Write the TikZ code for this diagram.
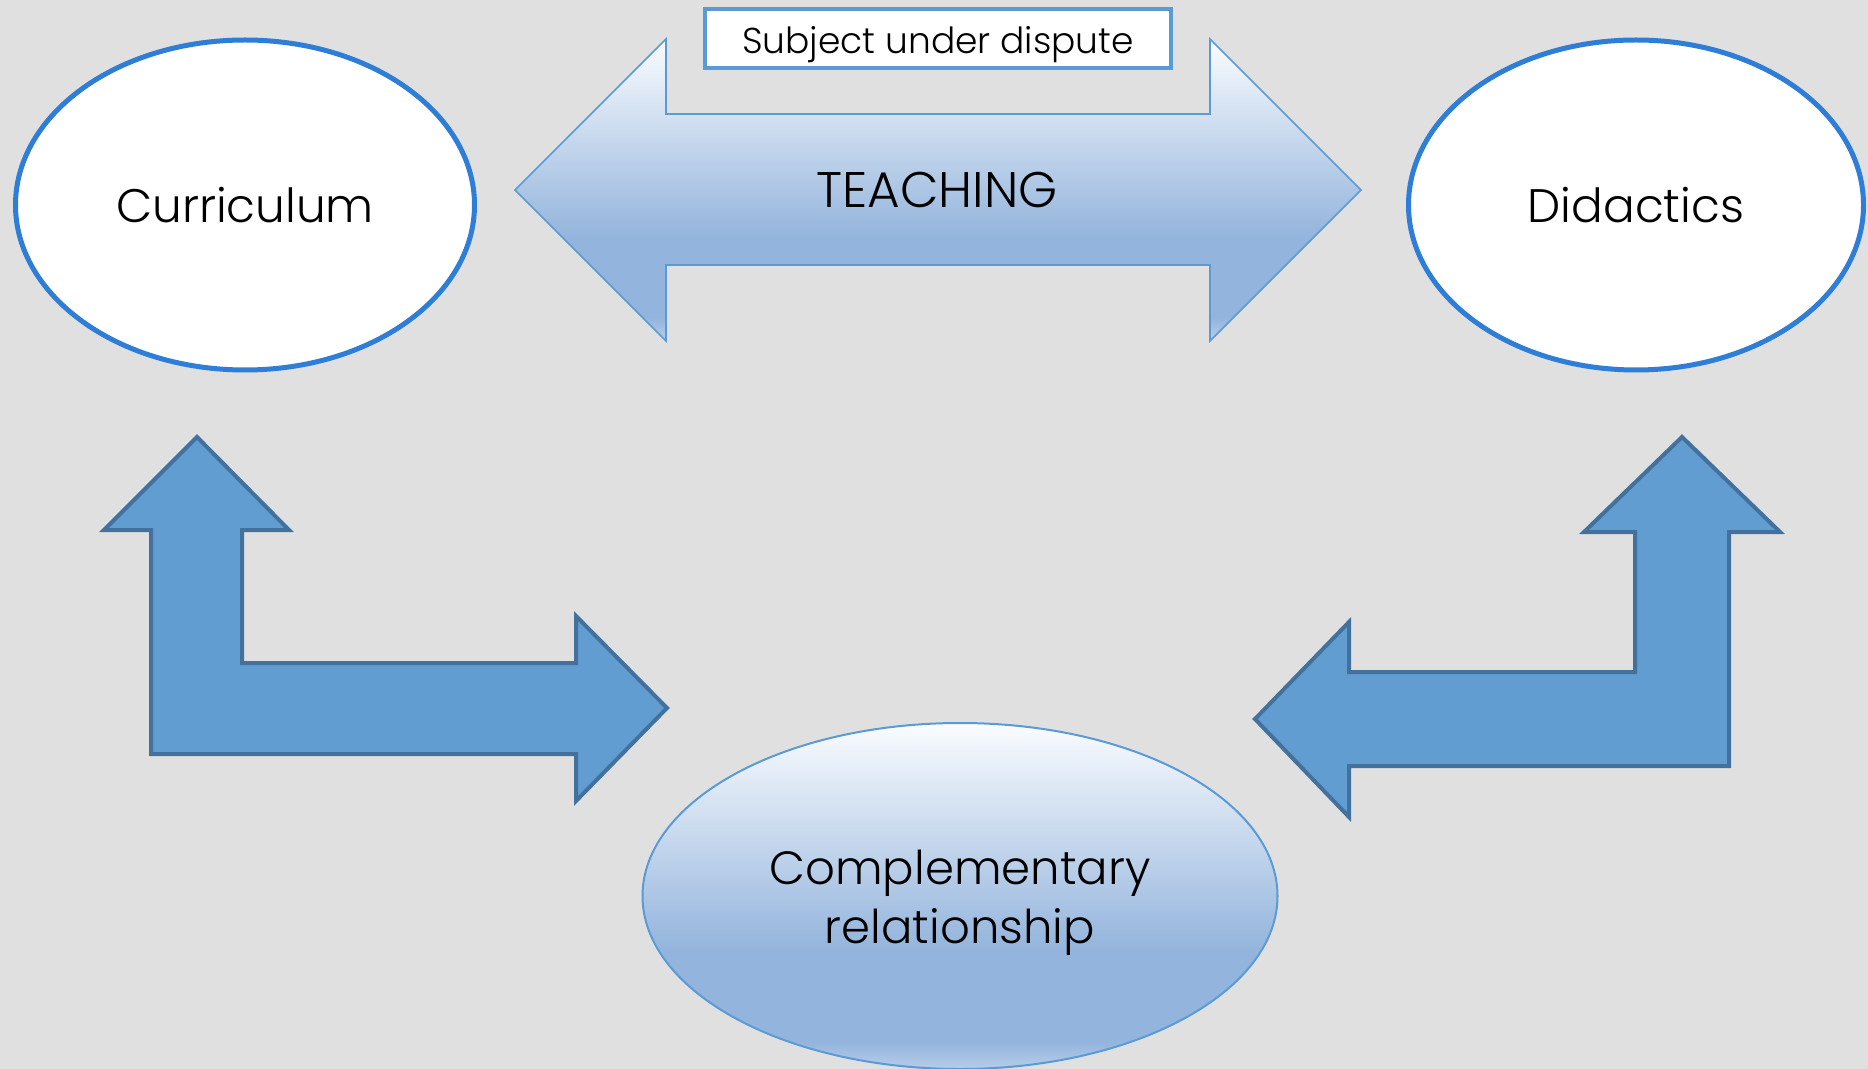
\documentclass[tikz,border=0pt]{standalone}
\usepackage{fontspec}
\setmainfont{Poppins Light}
\usetikzlibrary{shapes.geometric}

\definecolor{backgray}{RGB}{224,224,224}
\definecolor{ringblue}{RGB}{46,125,214}
\definecolor{arrowfill}{RGB}{98,157,209}
\definecolor{arrowline}{RGB}{65,113,156}
\definecolor{lightline}{RGB}{91,155,213}
\definecolor{gradlow}{RGB}{183,205,233}
\definecolor{gradbot}{RGB}{147,180,220}
\definecolor{gradtop}{RGB}{250,252,255}

\pgfdeclareverticalshading{softblue}{100bp}{color(0bp)=(gradlow); color(25bp)=(gradlow); color(29bp)=(gradbot); color(42bp)=(gradbot); color(75bp)=(gradtop); color(100bp)=(gradtop)}

\begin{document}
\begin{tikzpicture}[
		x=0.5pt, y=-0.5pt,
		bubble/.style={ellipse, draw=ringblue, fill=white, line width=2.5pt, inner sep=0pt, font=\fontsize{23.5}{28}\selectfont},
		blockarrow/.style={fill=arrowfill, draw=arrowline, line width=2pt, line join=miter},
		softarrow/.style={shade, shading=softblue, draw=lightline, line width=0.8pt}
		]
		
		% Background
		\fill[backgray] (0,0) rectangle (1868,1069);
		\useasboundingbox (0,0) rectangle (1868,1069);
		
		% Top ellipses
		\node[bubble, minimum width=229.5pt, minimum height=165pt] (curriculum) at (245,205) {Curriculum};
		\node[bubble, minimum width=227.5pt, minimum height=165pt] (didactics) at (1636,205) {Didactics};
		
		% Double arrow with its label
		\path[softarrow] (515,190) -- (666,39) -- (666,114) -- (1210,114) -- (1210,39) -- (1361,190)
			-- (1210,341) -- (1210,265) -- (666,265) -- (666,341) -- cycle;
		\node[font=\fontsize{25}{30}\selectfont] (teaching) at (937,190) {TEACHING};
		\node[draw=lightline, fill=white, line width=2pt, minimum width=233pt, minimum height=29.5pt,
			text height=18pt, text depth=3.2pt,
			font=\fontsize{18}{22}\selectfont] (subject) at (938,38.5) {Subject under dispute};
		
		% Bottom ellipse and its text
		\node[ellipse, shade, shading=softblue, draw=lightline, line width=1pt, inner sep=0pt,
			minimum width=317.5pt, minimum height=173pt] (relation) at (960,896) {};
		\node[align=center, font=\fontsize{23.3}{29.5}\selectfont] (relationtext)
			at ([yshift=-3.5pt]relation.center) {Complementary\\relationship};
		
		% Bent arrows
		\draw[blockarrow] (197,437) -- (289,530) -- (242,530) -- (242,663) -- (576,663) -- (576,616)
			-- (667,708) -- (576,801) -- (576,754) -- (151,754) -- (151,530) -- (104,530) -- cycle;
		\draw[blockarrow] (1682,437) -- (1780,532) -- (1729,532) -- (1729,766) -- (1349,766) -- (1349,817)
			-- (1255,719) -- (1349,622) -- (1349,672) -- (1635,672) -- (1635,532) -- (1584,532) -- cycle;
		
	\end{tikzpicture}
\end{document}
